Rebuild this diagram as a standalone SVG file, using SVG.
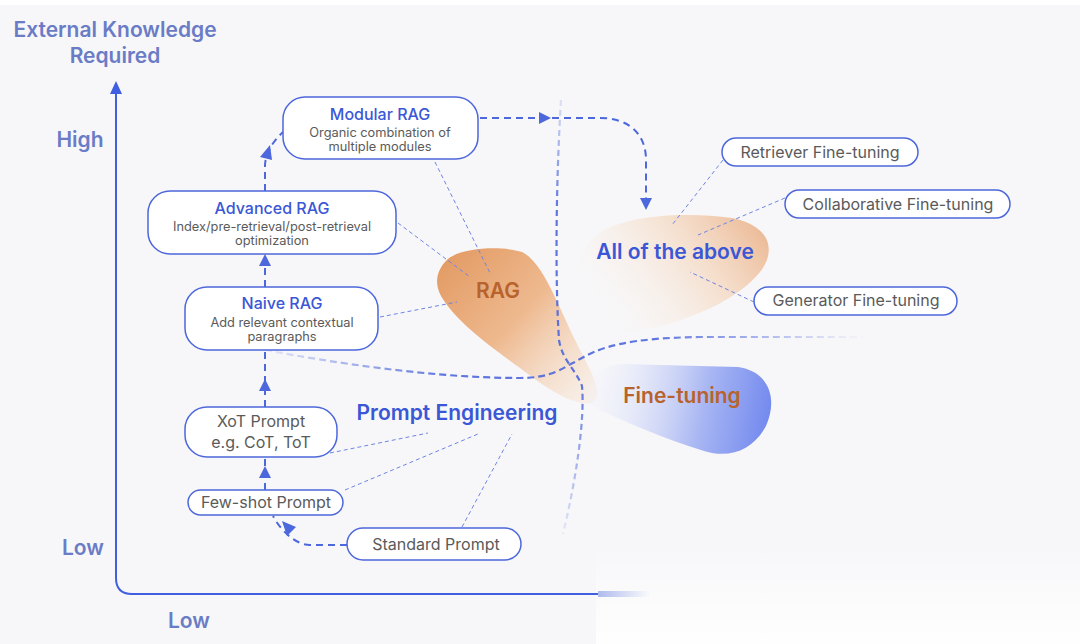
<svg xmlns="http://www.w3.org/2000/svg" width="1080" height="644" viewBox="0 0 1080 644">
<style>
.node{fill:#fff;stroke:#4d67dc;stroke-width:1.5}
.t{font-family:Inter,"Liberation Sans",sans-serif;text-anchor:middle}
.title{font-size:16px;font-weight:500;fill:#3b57d6}
.sub{font-size:12.8px;fill:#5a5a5a}
.gray{font-size:16px;fill:#5a5a5a}
.axis{font-size:21px;font-weight:600;fill:#6b7cc6}
.big{font-size:21px;font-weight:600}
.leader{fill:none;stroke:#6f85e3;stroke-width:1;stroke-dasharray:4 3}
.flow{fill:none;stroke:#4d67dc;stroke-width:2;stroke-dasharray:7 5}
.head{fill:#4d67dc}
</style>
<defs>
<linearGradient id="bgfade" x1="0" y1="545" x2="0" y2="640" gradientUnits="userSpaceOnUse">
<stop offset="0" stop-color="#ffffff" stop-opacity="0"/>
<stop offset="1" stop-color="#ffffff" stop-opacity="0.9"/>
</linearGradient>
<linearGradient id="ragG" x1="440" y1="260" x2="600" y2="405" gradientUnits="userSpaceOnUse">
<stop offset="0" stop-color="#e39b64"/>
<stop offset="0.45" stop-color="#eeb98f"/>
<stop offset="1" stop-color="#f9e6d4" stop-opacity="0.3"/>
</linearGradient>
<linearGradient id="allG" x1="765" y1="218" x2="610" y2="330" gradientUnits="userSpaceOnUse">
<stop offset="0" stop-color="#eab189" stop-opacity="0.95"/>
<stop offset="0.4" stop-color="#f4d5bb" stop-opacity="0.7"/>
<stop offset="1" stop-color="#fbf3ec" stop-opacity="0"/>
</linearGradient>
<linearGradient id="ftG" x1="775" y1="420" x2="595" y2="385" gradientUnits="userSpaceOnUse">
<stop offset="0" stop-color="#6f86ee"/>
<stop offset="0.4" stop-color="#a9b7f3"/>
<stop offset="1" stop-color="#eef0fb" stop-opacity="0.2"/>
</linearGradient>
<linearGradient id="vG" x1="0" y1="100" x2="0" y2="535" gradientUnits="userSpaceOnUse">
<stop offset="0" stop-color="#4d67dc" stop-opacity="0.15"/>
<stop offset="0.25" stop-color="#4d67dc" stop-opacity="0.9"/>
<stop offset="0.65" stop-color="#4d67dc" stop-opacity="0.9"/>
<stop offset="1" stop-color="#4d67dc" stop-opacity="0.1"/>
</linearGradient>
<linearGradient id="hG" x1="265" y1="0" x2="865" y2="0" gradientUnits="userSpaceOnUse">
<stop offset="0" stop-color="#4d67dc" stop-opacity="0.1"/>
<stop offset="0.3" stop-color="#4d67dc" stop-opacity="0.9"/>
<stop offset="0.65" stop-color="#4d67dc" stop-opacity="0.9"/>
<stop offset="1" stop-color="#4d67dc" stop-opacity="0"/>
</linearGradient>
<linearGradient id="xG" x1="596" y1="0" x2="650" y2="0" gradientUnits="userSpaceOnUse">
<stop offset="0" stop-color="#4d67dc" stop-opacity="0.45"/>
<stop offset="1" stop-color="#4d67dc" stop-opacity="0"/>
</linearGradient>
</defs>

<rect width="1080" height="644" fill="#f7f7f9"/>
<rect width="1080" height="5" fill="#ffffff"/>
<rect x="596" y="545" width="484" height="99" fill="url(#bgfade)"/>

<g id="axes">
<path d="M116,92 L116,578 Q116,594 132,594 L598,594" fill="none" stroke="#3f5fe0" stroke-width="2"/>
<path d="M598,594 L650,594" stroke="url(#xG)" stroke-width="6" fill="none"/>
<polygon points="110,94 116,81 122,94" fill="#3f5fe0"/>
<text class="t axis" x="115" y="37">External Knowledge</text>
<text class="t axis" x="115" y="63">Required</text>
<text class="t axis" x="80" y="147">High</text>
<text class="t axis" x="83" y="555">Low</text>
<text class="t axis" x="189" y="628">Low</text>
</g>

<g id="blobs">
<path id="blob-rag" d="M445,262 C455,248 500,245 522,252 C542,262 556,300 574,338 C590,370 604,392 594,402 C577,409 546,388 520,368 C490,346 456,322 441,296 C434,283 437,271 445,262 Z" fill="url(#ragG)"/>
<path id="blob-all" d="M592,240 C612,216 680,211 732,218 C772,226 776,252 760,272 C740,297 700,316 660,326 C620,336 592,340 577,330 C566,302 576,256 592,240 Z" fill="url(#allG)"/>
<path id="blob-ft" d="M622,364 L738,367 C767,371 779,396 766,426 C753,450 730,459 704,451 C668,440 622,421 592,406 C576,396 592,366 622,364 Z" fill="url(#ftG)"/>
</g>

<g id="connectors">
<path d="M561,100 C556,180 555,280 559,340 C562,360 576,370 582,386 C585,420 576,480 563,534" fill="none" stroke="url(#vG)" stroke-width="2.2" stroke-dasharray="6 4"/>
<path d="M265,350 C330,362 430,378 520,378 C552,378 562,368 575,362 C600,346 630,338 700,337 L865,337" fill="none" stroke="url(#hG)" stroke-width="2.2" stroke-dasharray="7 4"/>

<path class="flow" d="M480,118 L600,118 C630,118 646,135 646,160 L646,200"/>
<polygon class="head" points="539,112 551,118 539,124"/>
<polygon class="head" points="640,198 646,210 652,198"/>
<path class="flow" d="M265,287 L265,264"/>
<polygon class="head" points="259,266 265,254 271,266"/>
<path class="flow" d="M265,191 L265,165 Q266,148 283,132"/>
<polygon class="head" points="260,157 270,145 272,160"/>
<path class="flow" d="M265,407 L265,350"/>
<polygon class="head" points="259,391 265,379 271,391"/>
<path class="flow" d="M265,490 L265,457"/>
<polygon class="head" points="259,478 265,466 271,478"/>
<path class="flow" d="M347,545 L310,545 C296,545 281,531 273,516"/>
<polygon class="head" points="282,521 296,527 287,536"/>

<path class="leader" d="M435,162 L490,273"/>
<path class="leader" d="M398,223 L470,277"/>
<path class="leader" d="M380,317 L457,302"/>
<path class="leader" d="M330,453 L428,433"/>
<path class="leader" d="M345,490 L478,434"/>
<path class="leader" d="M462,527 L512,434"/>
<path class="leader" d="M723,160 L672,225"/>
<path class="leader" d="M785,198 L698,235"/>
<path class="leader" d="M754,302 L690,272"/>
</g>

<g id="modular-rag">
<rect class="node" x="283" y="97" width="195" height="62" rx="22"/>
<text class="t title" x="380" y="120">Modular RAG</text>
<text class="t sub" x="380" y="137">Organic combination of</text>
<text class="t sub" x="380" y="151">multiple modules</text>
</g>
<g id="advanced-rag">
<rect class="node" x="148" y="191" width="248" height="63" rx="22"/>
<text class="t title" x="272" y="214">Advanced RAG</text>
<text class="t sub" x="272" y="231">Index/pre-retrieval/post-retrieval</text>
<text class="t sub" x="272" y="245">optimization</text>
</g>
<g id="naive-rag">
<rect class="node" x="185" y="287" width="193" height="63" rx="22"/>
<text class="t title" x="282" y="309">Naive RAG</text>
<text class="t sub" x="282" y="327">Add relevant contextual</text>
<text class="t sub" x="282" y="341">paragraphs</text>
</g>
<g id="xot-prompt">
<rect class="node" x="185" y="407" width="152" height="50" rx="22"/>
<text class="t gray" x="261" y="427">XoT Prompt</text>
<text class="t gray" x="261" y="448">e.g. CoT, ToT</text>
</g>
<g id="few-shot">
<rect class="node" x="188" y="490" width="155" height="25" rx="12.5"/>
<text class="t gray" x="266" y="508">Few-shot Prompt</text>
</g>
<g id="standard-prompt">
<rect class="node" x="347" y="528" width="174" height="32" rx="16"/>
<text class="t gray" x="436" y="550">Standard Prompt</text>
</g>
<g id="retriever-ft">
<rect class="node" x="722" y="138" width="196" height="28" rx="14"/>
<text class="t gray" x="820" y="158">Retriever Fine-tuning</text>
</g>
<g id="collaborative-ft">
<rect class="node" x="785" y="190" width="225" height="28" rx="14"/>
<text class="t gray" x="898" y="210">Collaborative Fine-tuning</text>
</g>
<g id="generator-ft">
<rect class="node" x="754" y="287" width="203" height="28" rx="14"/>
<text class="t gray" x="856" y="306">Generator Fine-tuning</text>
</g>

<g id="labels">
<text class="t big" x="498" y="298" fill="#b8622c">RAG</text>
<text class="t big" x="675" y="259" fill="#3b57d6">All of the above</text>
<text class="t big" x="682" y="403" fill="#b8622c">Fine-tuning</text>
<text class="t big" x="457" y="420" fill="#3b57d6">Prompt Engineering</text>
</g>
</svg>
